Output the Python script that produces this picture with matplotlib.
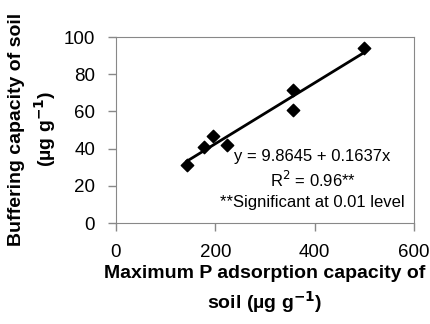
import numpy as np
import matplotlib.pyplot as plt

# maximum P adsorption capacity (ug/g) vs buffering capacity (ug/g)
max_p_ads = [143, 178, 196, 223, 357, 357, 500]
buffering = [31, 41, 47, 42, 71.5, 61, 94]
intercept, slope = 9.8645, 0.1637

plt.rcParams["font.family"] = ["Liberation Sans", "DejaVu Sans"]

W, H = 431, 324
fig = plt.figure(figsize=(W / 100, H / 100), dpi=100)
ax = fig.add_axes([116 / W, 1 - 223 / H, 298 / W, 186 / H])

ax.scatter(max_p_ads, buffering, marker="D", s=40, color="black", zorder=3)
xfit = np.array([min(max_p_ads), max(max_p_ads)])
ax.plot(xfit, intercept + slope * xfit, color="black", lw=2)

ax.set_xlim(0, 600)
ax.set_ylim(0, 100)
ax.set_xticks([0, 200, 400, 600])
ax.set_yticks([0, 20, 40, 60, 80, 100])
ax.tick_params(labelsize=13.5, length=6, width=1, color="#888888", pad=9)
for s in ax.spines.values():
    s.set_color("#888888")

ax.text(396, 36, "y = 9.8645 + 0.1637x", ha="center", va="center", fontsize=12)
ax.text(396, 23, r"R$^2$ = 0.96**", ha="center", va="center", fontsize=12)
ax.text(396, 11, "**Significant at 0.01 level", ha="center", va="center", fontsize=12)

lab = dict(fontsize=14, fontweight="bold", ha="center", va="center")
fig.text(265 / W, 1 - 274 / H, "Maximum P adsorption capacity of", **lab)
fig.text(265 / W, 1 - 302 / H, "soil (µg g$^{\\mathbf{-1}}$)", **lab)
fig.text(17 / W, 1 - 129 / H, "Buffering capacity of soil", rotation=90, **lab)
fig.text(45 / W, 1 - 129 / H, "(µg g$^{\\mathbf{-1}}$)", rotation=90, **lab)

plt.savefig("out.png", dpi=100)
